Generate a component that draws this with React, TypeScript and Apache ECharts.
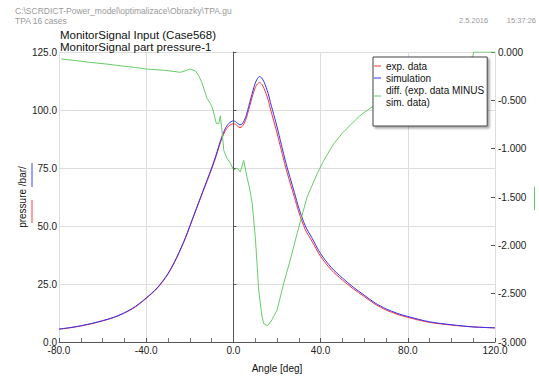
import React, { useEffect, useRef } from "react";
import * as echarts from "echarts";

const angles = [-80, -75, -70, -65, -60, -55, -50, -45, -40, -35, -30, -26, -22, -18, -14, -12, -10, -8, -6, -4, -2, 0, 1, 2, 3, 4, 5, 6, 7, 8, 9, 10, 11, 12, 13, 14, 15, 16, 17, 18, 20, 22, 24, 26, 28, 30, 33, 36, 40, 45, 50, 55, 60, 65, 70, 75, 80, 90, 100, 110, 120];
const expData = [5.5, 6.1, 6.9, 7.9, 9.1, 10.5, 12.5, 15.1, 18.8, 23.1, 29.3, 36.3, 44.8, 54.8, 64.7, 69.5, 74.5, 79.8, 85.8, 90.5, 93.2, 94.1, 93.8, 93.0, 92.4, 92.9, 94.3, 96.7, 100.1, 103.5, 106.8, 109.6, 111.2, 111.8, 111.1, 109.4, 107.0, 104.2, 100.4, 97.0, 90.1, 82.6, 75.2, 68.6, 62.4, 56.0, 48.4, 43.5, 36.9, 31.0, 26.7, 22.9, 19.6, 16.3, 13.8, 12.0, 10.6, 8.45, 7.3, 6.5, 6.1];
const simData = [5.6, 6.2, 7.0, 8.0, 9.2, 10.6, 12.6, 15.3, 19.0, 23.3, 29.5, 36.5, 45.0, 55.0, 65.0, 70.0, 75.0, 80.5, 86.5, 91.5, 94.3, 95.3, 95.0, 94.2, 93.6, 94.0, 95.5, 98.0, 101.5, 105.0, 108.5, 111.5, 113.5, 114.4, 113.8, 112.2, 109.8, 107.0, 103.2, 99.8, 92.8, 85.1, 77.5, 70.8, 64.4, 57.8, 50.0, 44.9, 38.1, 32.0, 27.6, 23.6, 20.2, 16.8, 14.3, 12.4, 11.0, 8.7, 7.45, 6.5, 6.1];

const diffAngles = [-79, -72, -66, -58, -51, -45, -40, -31, -24.3, -21.5, -19.7, -17.4, -15.8, -14.4, -12.1, -10.6, -9.6, -8.6, -7.8, -6.7, -6.0, -5.2, -4.4, -2.9, -1.4, 0.1, 1.7, 3.2, 4.7, 6.3, 7.5, 8.6, 10.1, 11.6, 13.0, 13.9, 15.7, 17.7, 20, 23.1, 26.1, 29.2, 33.8, 38.4, 41.5, 46, 50, 53.7, 58, 62.8, 70, 80, 90, 100, 106, 109.8, 110.2, 120];
const diffValues = [-0.072, -0.09, -0.107, -0.125, -0.145, -0.16, -0.176, -0.19, -0.21, -0.19, -0.176, -0.197, -0.25, -0.32, -0.48, -0.53, -0.58, -0.67, -0.74, -0.74, -0.66, -0.82, -1.02, -1.10, -1.15, -1.22, -1.20, -1.24, -1.12, -1.30, -1.42, -1.56, -1.93, -2.46, -2.72, -2.81, -2.83, -2.77, -2.67, -2.39, -2.15, -1.88, -1.50, -1.26, -1.12, -0.95, -0.84, -0.755, -0.66, -0.58, -0.48, -0.36, -0.25, -0.14, -0.07, -0.05, 0, 0];

const seriesNames = ["exp. data", "simulation", "diff. (exp. data MINUS\nsim. data)"];
const FONT = "'Liberation Sans', Arial, sans-serif";

export default function App() {
  const ref = useRef<HTMLDivElement>(null);
  useEffect(() => {
    if (!ref.current) return;
    const chart = echarts.init(ref.current, undefined, { renderer: "svg" });
    chart.setOption({
      animation: false,
      backgroundColor: "#ffffff",
      textStyle: { fontFamily: FONT },
      title: [
        {
          text: "MonitorSignal Input (Case568)\nMonitorSignal part pressure-1",
          left: 60,
          top: 29,
          padding: 0,
          textStyle: { fontSize: 11.5, fontWeight: "normal", color: "#111", lineHeight: 12, fontFamily: FONT },
        },
        {
          text: "C:\\SCRDICT-Power_model\\optimalizace\\Obrazky\\TPA.gu\nTPA 16 cases",
          left: 15,
          top: 6,
          padding: 0,
          textStyle: { fontSize: 8.5, fontWeight: "normal", color: "#999", lineHeight: 10, fontFamily: FONT },
        },
      ],
      graphic: [
        { type: "text", left: 459, top: 16, style: { text: "2.5.2016", fontSize: 7.5, fill: "#999", fontFamily: FONT } },
        { type: "text", right: 3, top: 16, style: { text: "15:37:26", fontSize: 7.5, fill: "#999", fontFamily: FONT } },
        { type: "line", shape: { x1: 32, y1: 163, x2: 32, y2: 187 }, style: { stroke: "#4040ff", lineWidth: 1 } },
        { type: "line", shape: { x1: 32, y1: 200, x2: 32, y2: 223 }, style: { stroke: "#ff4040", lineWidth: 1 } },
        { type: "line", shape: { x1: 534.5, y1: 187, x2: 534.5, y2: 210 }, style: { stroke: "#66cc66", lineWidth: 1 } },
      ],
      legend: {
        orient: "vertical",
        left: 373,
        top: 57,
        padding: [3, 3, 18, 1],
        itemGap: 0,
        itemWidth: 7,
        itemHeight: 1,
        icon: "rect",
        backgroundColor: "#ffffff",
        borderColor: "#444",
        borderWidth: 1,
        borderRadius: 0,
        shadowColor: "rgba(0,0,0,0.35)",
        shadowBlur: 2,
        shadowOffsetX: 2,
        shadowOffsetY: 2,
        textStyle: { fontSize: 10, color: "#111", lineHeight: 12, fontFamily: FONT },
        data: seriesNames,
      },
      grid: { left: 59, right: 44, top: 52, bottom: 43, containLabel: false },
      xAxis: {
        type: "value",
        min: -80,
        max: 120,
        interval: 40,
        name: "Angle [deg]",
        nameLocation: "middle",
        nameGap: 21,
        nameTextStyle: { fontSize: 10, color: "#111" },
        axisLine: { show: true, onZero: false, lineStyle: { color: "#555" } },
        axisTick: { show: true, inside: true, length: 4, lineStyle: { color: "#555" } },
        minorTick: { show: true, splitNumber: 4, length: 4, lineStyle: { color: "#777" } },
        axisLabel: { margin: 3, fontSize: 10, color: "#222", formatter: (v: number) => v.toFixed(1) },
        splitLine: { show: true, lineStyle: { color: "#dddddd", width: 1 } },
      },
      yAxis: [
        {
          type: "value",
          min: 0,
          max: 125,
          interval: 25,
          name: "pressure /bar/",
          nameLocation: "middle",
          nameGap: 32,
          nameMoveOverlap: false,
          nameRotate: 90,
          nameTextStyle: { fontSize: 10, color: "#111" },
          axisLine: { show: true, lineStyle: { color: "#555" } },
          axisTick: { show: true, inside: true, length: 3, lineStyle: { color: "#555" } },
          axisLabel: { margin: 2, fontSize: 10, color: "#222", formatter: (v: number) => v.toFixed(1) },
          splitLine: { show: true, lineStyle: { color: "#dddddd", width: 1 } },
        },
        {
          type: "value",
          min: -3,
          max: 0,
          interval: 0.5,
          position: "right",
          axisLine: { show: false },
          axisTick: { show: true, inside: true, length: 4, lineStyle: { color: "#555" } },
          axisLabel: { margin: 3, fontSize: 10, color: "#222", formatter: (v: number) => v.toFixed(3) },
          splitLine: { show: false },
        },
      ],
      series: [
        {
          name: seriesNames[0],
          type: "line",
          yAxisIndex: 0,
          data: angles.map((a, i) => [a, expData[i]]),
          showSymbol: false,
          smooth: 0.3,
          color: "#ff3030",
          lineStyle: { width: 1, color: "#ff3030" },
          markLine: {
            silent: true,
            symbol: "none",
            label: { show: false },
            lineStyle: { color: "#555", width: 1, type: "solid" },
            data: [{ xAxis: 0 }],
          },
        },
        {
          name: seriesNames[1],
          type: "line",
          yAxisIndex: 0,
          data: angles.map((a, i) => [a, simData[i]]),
          showSymbol: false,
          smooth: 0.3,
          color: "#3030ff",
          lineStyle: { width: 1, color: "#3030ff" },
        },
        {
          name: seriesNames[2],
          type: "line",
          yAxisIndex: 1,
          data: diffAngles.map((a, i) => [a, diffValues[i]]),
          showSymbol: false,
          color: "#66cc66",
          lineStyle: { width: 1, color: "#66cc66" },
        },
      ],
    });
    return () => chart.dispose();
  }, []);
  return <div ref={ref} style={{ position: "fixed", left: 0, top: 0, width: 539, height: 385 }} />;
}
